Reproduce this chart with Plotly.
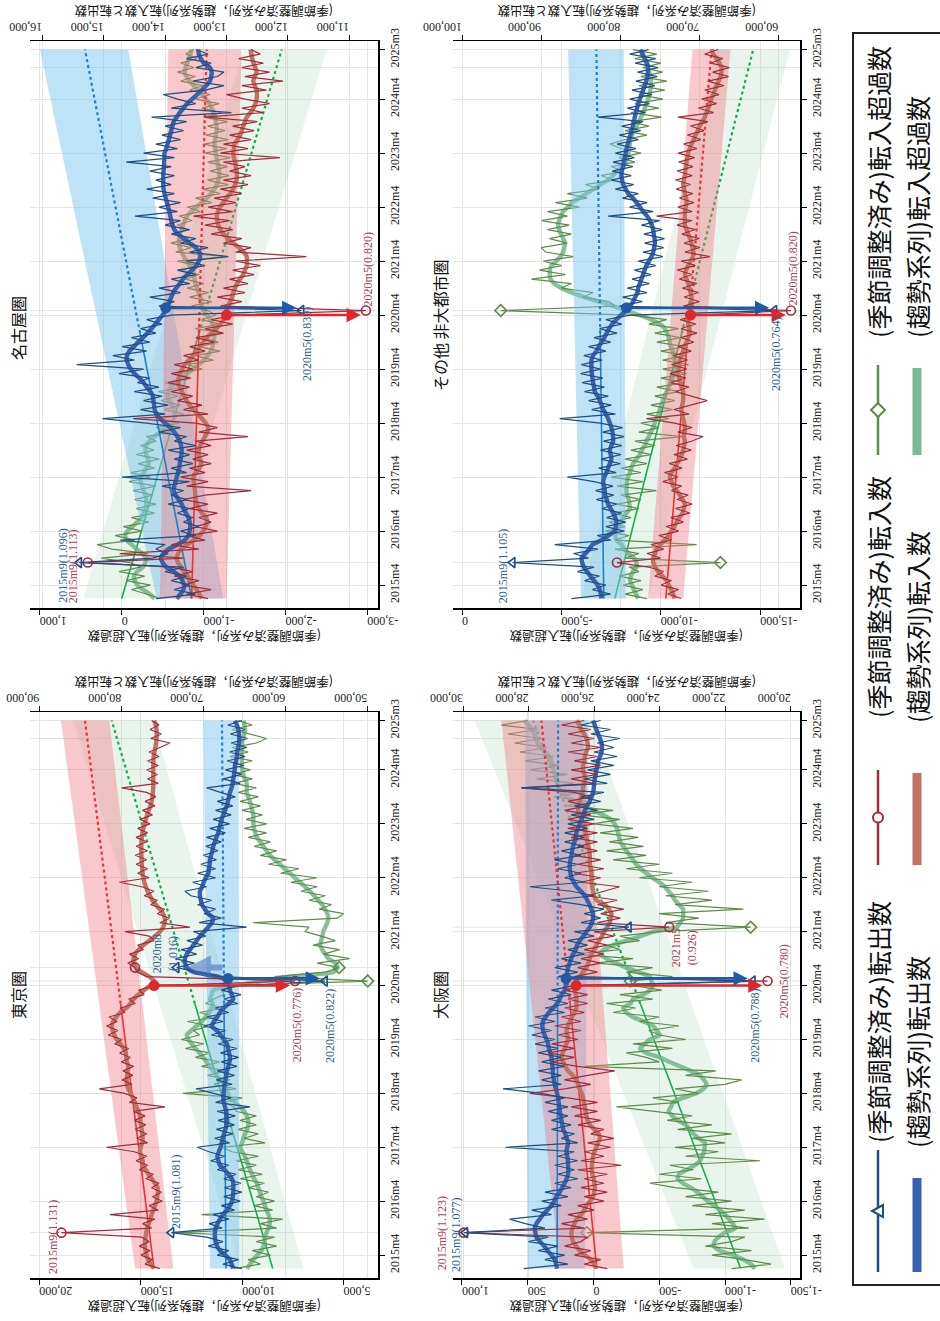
import numpy as np
import pandas as pd
import plotly.graph_objects as go

# ---------------------------------------------------------------- time axis
months = pd.period_range("2015-01", "2025-03", freq="M")
T = np.arange(len(months))


def midx(s):
    p = pd.Period(s, "M")
    return (p.year - 2015) * 12 + p.month - 1


tick_months = ["2015-04", "2016-04", "2017-04", "2018-04", "2019-04", "2020-04",
               "2021-04", "2022-04", "2023-04", "2024-04", "2025-03"]
tick_text = ["2015m4", "2016m4", "2017m4", "2018m4", "2019m4", "2020m4",
             "2021m4", "2022m4", "2023m4", "2024m4", "2025m3"]
fit_end_month = "2019-12"

# ---------------------------------------------------------------- 名古屋圏
nagoya_out_sa = [
    14150, 13500, 13850, 13600, 13900, 13650, 14000, 13700, 15400, 14200, 13950, 14150,
    14000, 14730, 13500, 13750, 13450, 13700, 13550, 13800, 13600, 13950, 13650, 13900,
    13700, 14050, 13600, 14700, 13650, 13900, 13550, 13850, 13600, 13950, 13500, 13850,
    13650, 14100, 13750, 14300, 15020, 14000, 14400, 13950, 14350, 14050, 14500, 14100,
    14450, 14250, 14750, 14350, 15440, 14500, 14850, 14300, 14700, 14250, 14550, 14150,
    14400, 14050, 14300, 13900, 11780, 14100, 13850, 14250, 13750, 14100, 13600, 13900,
    13500, 13800, 13350, 13650, 12970, 13600, 13300, 13750, 13500, 13900, 13600, 14000,
    13750, 14490, 13800, 14100, 13750, 14200, 13850, 14300, 13900, 14150, 13850, 14250,
    13900, 14630, 13850, 14350, 13800, 14150, 13750, 14050, 13700, 14000, 13650, 14220,
    12920, 13900, 13500, 13800, 14030, 13350, 13040, 13550, 13150, 13040, 13500, 13250,
    13650, 13300, 13500]
nagoya_out_trend = [
    13810, 13750, 13700, 13690, 13720, 13760, 13860, 13980, 14040, 14070, 14030, 13940,
    13800, 13680, 13620, 13600, 13590, 13600, 13620, 13660, 13700, 13730, 13780, 13830,
    13860, 13850, 13830, 13810, 13790, 13770, 13760, 13745, 13735, 13730, 13740, 13760,
    13800, 13850, 13920, 14000, 14080, 14140, 14170, 14180, 14190, 14200, 14240, 14300,
    14350, 14420, 14500, 14560, 14600, 14625, 14620, 14580, 14510, 14440, 14360, 14290,
    14220, 14160, 14100, 14040, 13990, 13960, 13930, 13900, 13870, 13820, 13760, 13710,
    13640, 13560, 13490, 13450, 13430, 13440, 13500, 13600, 13700, 13790, 13850, 13880,
    13900, 13915, 13930, 13950, 13970, 13990, 14010, 14025, 14030, 14030, 14030, 14025,
    14020, 14015, 14010, 14010, 13980, 13960, 13940, 13920, 13900, 13880, 13860, 13810,
    13760, 13700, 13640, 13560, 13480, 13400, 13330, 13270, 13250, 13240, 13270, 13370,
    13420, 13450, 13460]
nagoya_in_sa = [
    13300, 13650, 13250, 13700, 13450, 13850, 13550, 13900, 15260, 13700, 14740, 13450,
    13900, 13350, 13650, 13150, 13500, 13250, 13450, 13150, 13600, 13300, 13700, 13350,
    12600, 13650, 13300, 13750, 13350, 13600, 13250, 13550, 13300, 13650, 13250, 13500,
    12650, 13450, 13150, 13500, 14520, 13300, 13700, 13400, 13800, 13550, 13900, 13600,
    13950, 13600, 13900, 13550, 13850, 13450, 13700, 13350, 13600, 13200, 13500, 13050,
    13350, 12900, 13250, 12850, 10730, 13100, 12750, 13150, 12700, 13050, 12650, 12950,
    12550, 12900, 12450, 12850, 11700, 12850, 12600, 13050, 12750, 13250, 12900, 13350,
    12950, 13540, 12900, 13300, 12850, 13200, 12750, 13100, 12650, 13050, 12600, 12950,
    12700, 13050, 12130, 13100, 12650, 13050, 12600, 12950, 12550, 12900, 12500, 13350,
    12400, 12750, 12300, 12700, 13000, 12350, 12750, 12080, 12700, 12300, 12750, 12400,
    12800, 12450, 12600]
nagoya_in_trend = [
    13400, 13440, 13490, 13540, 13590, 13630, 13690, 13740, 13790, 13810, 13790, 13740,
    13640, 13530, 13440, 13380, 13340, 13320, 13330, 13400, 13450, 13480, 13500, 13510,
    13515, 13525, 13535, 13540, 13500, 13440, 13410, 13430, 13455, 13450, 13430, 13390,
    13350, 13310, 13300, 13340, 13400, 13470, 13540, 13600, 13650, 13690, 13730, 13760,
    13785, 13780, 13760, 13720, 13680, 13610, 13540, 13490, 13430, 13380, 13320, 13240,
    13160, 13100, 13050, 13020, 13000, 12970, 12940, 12910, 12890, 12860, 12830, 12780,
    12730, 12700, 12670, 12665, 12670, 12720, 12800, 12890, 12970, 13050, 13100, 13135,
    13150, 13160, 13140, 13105, 13050, 13000, 12940, 12890, 12860, 12835, 12830, 12835,
    12850, 12860, 12880, 12890, 12880, 12870, 12820, 12780, 12750, 12725, 12700, 12670,
    12610, 12560, 12530, 12510, 12505, 12510, 12540, 12565, 12540, 12510, 12530, 12560,
    12580, 12595, 12610]
nagoya_net_sa = [
    -480, -300, -120, -350, -60, -280, 30, -230, -100, 250, -330, 120,
    300, -160, 80, -250, -20, -330, -120, -400, -180, -420, -160, -380,
    -140, -420, -90, -350, -110, -400, -200, -460, -180, -390, -230, -420,
    -300, -600, -420, -700, -480, -760, -520, -720, -480, -690, -450, -740,
    -530, -850, -650, -980, -800, -1120, -900, -1200, -950, -1180, -980, -1230,
    -900, -1200, -980, -1150, -1050, -850, -1100, -830, -1060, -800, -1000, -780,
    -950, -720, -930, -680, -1270, -660, -850, -600, -820, -620, -800, -680,
    -860, -700, -960, -800, -1100, -900, -1200, -1000, -1300, -1050, -1310, -1080,
    -1290, -1050, -1330, -1020, -1280, -1000, -1300, -1030, -1260, -1050, -1290, -1000,
    -1220, -980, -1190, -900, -1080, -830, -1000, -720, -900, -680, -880, -720,
    -920, -780, -880]
nagoya_net_trend = [
    -400, -340, -260, -190, -160, -150, -190, -260, -290, -300, -250, -180,
    -120, -60, -40, -70, -130, -190, -240, -270, -290, -300, -300, -290,
    -270, -250, -230, -240, -270, -300, -330, -320, -300, -290, -300, -340,
    -400, -470, -540, -600, -640, -650, -640, -610, -580, -560, -570, -600,
    -650, -720, -800, -870, -940, -1000, -1050, -1090, -1110, -1120, -1130, -1140,
    -1130, -1110, -1080, -1040, -1000, -980, -970, -960, -940, -920, -900, -890,
    -880, -860, -830, -790, -760, -730, -710, -700, -700, -710, -730, -750,
    -770, -800, -850, -910, -980, -1040, -1090, -1130, -1160, -1180, -1190, -1190,
    -1180, -1170, -1160, -1150, -1140, -1130, -1140, -1150, -1160, -1160, -1150, -1140,
    -1120, -1100, -1070, -1030, -980, -930, -880, -830, -790, -770, -780, -800,
    -820, -840, -850]
nagoya_fit = {"net": (0, -1954), "in": (13568, 13323), "out": (13568, 15305)}
nagoya_band = {"net": (468, -468, -1486, -2503), "in": (14084, 12998, 13948, 12754),
               "out": (14138, 13052, 16038, 14599)}

# ---------------------------------------------------------------- 東京圏
tokyo_out_sa = [
    65300, 67600, 65700, 68300, 66900, 69400, 67600, 69600, 73900, 67700, 69300, 66900,
    68800, 66200, 67800, 65500, 67500, 65300, 67400, 65400, 67500, 66000, 68300, 66900,
    69100, 67400, 69300, 70730, 66800, 68600, 66400, 68400, 66200, 68200, 66100, 68300,
    64310, 68500, 66600, 68600, 70890, 66500, 68400, 66200, 68300, 65900, 67800, 65700,
    67900, 65900, 68200, 66400, 69000, 67300, 70000, 67600, 69600, 66900, 68600, 65800,
    67500, 65400, 67800, 65800, 55160, 68000, 70600, 73250, 71100, 73400, 70800, 72700,
    70100, 72000, 69700, 71200, 64720, 70500, 67800, 69900, 68500, 70700, 69000, 71500,
    72240, 69600, 71300, 68500, 70700, 68500, 70300, 68400, 70000, 68200, 69700, 67800,
    69600, 67300, 69200, 66800, 68800, 66600, 68500, 66400, 68300, 66100, 67900, 69590,
    65500, 67600, 65300, 67300, 65100, 67100, 64900, 66800, 64700, 66600, 64600, 66700,
    64900, 67000, 65300]
tokyo_out_trend = [
    66340, 66550, 66750, 67350, 67970, 68300, 68500, 68580, 68580, 68500, 68250, 67970,
    67600, 67150, 66750, 66500, 66400, 66340, 66340, 66340, 66500, 66950, 67400, 67970,
    68150, 68290, 68100, 67900, 67760, 67620, 67480, 67300, 67160, 67155, 67155, 67200,
    67350, 67500, 67560, 67520, 67480, 67400, 67300, 67200, 67100, 66950, 66800, 66750,
    66850, 67000, 67100, 67500, 67900, 68370, 68980, 68700, 68300, 67970, 67500, 66900,
    66342, 66550, 66748, 66900, 66990, 68200, 71200, 72000, 72200, 72236, 72000, 71626,
    71200, 70813, 70400, 69900, 69400, 68950, 68800, 69390, 69800, 70150, 70300, 70407,
    70400, 70150, 69950, 69700, 69390, 69300, 69230, 69187, 69050, 68900, 68781, 68600,
    68400, 68171, 68050, 67900, 67764, 67560, 67350, 67155, 67000, 66880, 66748, 66550,
    66420, 66342, 66250, 66180, 66139, 66000, 65900, 65854, 65750, 65650, 65610, 65650,
    65732, 65900, 66139]
tokyo_in_sa = [
    75300, 77100, 76200, 77600, 76500, 77800, 76600, 77500, 87300, 76300, 77400, 75900,
    81380, 75500, 76600, 75000, 76200, 75100, 76300, 75400, 77000, 76100, 77800, 76800,
    78200, 76900, 78400, 81790, 76800, 78100, 76900, 78300, 77000, 78400, 77100, 78500,
    74680, 79000, 78100, 79600, 82680, 78700, 79900, 78600, 79800, 78500, 80000, 78900,
    80200, 79100, 80800, 79900, 81600, 80400, 81800, 80500, 81500, 79600, 80100, 78300,
    79100, 77200, 77900, 76000, 58810, 76900, 78100, 78330, 79200, 77900, 79000, 77300,
    78000, 76000, 76600, 79550, 71630, 75300, 74100, 75600, 74700, 76400, 75600, 77200,
    76000, 77500, 80240, 76600, 78000, 76800, 78200, 76900, 78300, 76800, 78200, 76900,
    78200, 76800, 78000, 76500, 77700, 76200, 77400, 75900, 77100, 75800, 76900, 79960,
    75500, 76800, 75600, 76900, 75500, 76800, 75400, 76600, 75300, 74070, 76400, 75100,
    76500, 75400, 76300]
tokyo_in_trend = [
    76020, 76400, 76750, 76910, 77050, 77110, 77110, 77050, 76950, 76850, 76650, 76450,
    76300, 76100, 75900, 75700, 75600, 75550, 75580, 75900, 76300, 76700, 77050, 77350,
    77400, 77550, 77720, 77650, 77450, 77400, 77450, 77520, 77600, 77680, 77720, 77900,
    78150, 78350, 78600, 78850, 79150, 79300, 79350, 79300, 79200, 79150, 79300, 79400,
    79450, 79700, 80100, 80550, 80850, 81050, 81180, 81000, 80600, 80150, 79400, 78900,
    78500, 77900, 77200, 76500, 76000, 76600, 77500, 78200, 78500, 78500, 78300, 77900,
    77300, 76600, 75900, 75300, 74900, 74700, 74700, 74900, 75300, 75800, 76200, 76500,
    76800, 77000, 77200, 77300, 77400, 77450, 77500, 77520, 77550, 77560, 77560, 77550,
    77500, 77420, 77300, 77150, 77000, 76850, 76650, 76450, 76300, 76200, 76150, 76100,
    76100, 76100, 76100, 76100, 76100, 76080, 76050, 75950, 75850, 75750, 75700, 75680,
    75700, 75800, 76000]
tokyo_net_sa = [
    10400, 9100, 9700, 8600, 9500, 8300, 9300, 8400, 13200, 8300, 9100, 8000,
    12000, 8500, 9400, 8400, 9300, 8700, 9700, 8900, 10100, 9000, 10200, 9300,
    10300, 9200, 10500, 11000, 8870, 9900, 9200, 10200, 9300, 10100, 9300, 10300,
    10400, 10900, 10000, 12930, 10300, 11400, 10600, 11700, 10800, 12000, 11100, 12300,
    11600, 12800, 11900, 13000, 12100, 12400, 11600, 12700, 11200, 12100, 10900, 11800,
    11400, 10900, 11000, 10200, 3810, 8400, 5900, 5220, 6300, 4700, 6000, 5200,
    6500, 5400, 6100, 6900, 6700, 9450, 5300, 5000, 6200, 5600, 6700, 5900,
    7100, 6300, 7600, 6320, 8100, 7200, 8700, 7800, 9100, 8300, 9400, 8600,
    9700, 8800, 9900, 8790, 9800, 9000, 10000, 9100, 10100, 9200, 10200, 9300,
    10400, 9500, 10500, 9600, 10400, 9500, 10600, 9700, 10500, 9300, 8790, 9600,
    10500, 9500, 10200]
tokyo_net_trend = [
    9770, 9600, 9450, 9250, 9050, 8950, 8900, 8870, 8800, 8700, 8640, 8640,
    8700, 8800, 8870, 8950, 9050, 9120, 9200, 9280, 9400, 9520, 9610, 9700,
    9780, 9860, 10000, 10100, 10000, 9940, 9850, 9750, 9692, 9700, 9774, 9900,
    10100, 10350, 10600, 10700, 10760, 10900, 11089, 11250, 11418, 11600, 11750, 11912,
    12100, 12300, 12487, 12650, 12734, 12500, 12240, 12000, 11800, 11650, 11500, 11450,
    11583, 11500, 11418, 10300, 9000, 7600, 5500, 5300, 5400, 5746, 5900, 6050,
    6157, 6100, 6050, 5994, 5900, 5800, 5746, 5800, 5911, 6050, 6240, 6450,
    6651, 6900, 7144, 7400, 7637, 7900, 8130, 8400, 8624, 8800, 8953, 9100,
    9281, 9350, 9420, 9446, 9446, 9446, 9500, 9560, 9610, 9700, 9774, 9774,
    9774, 9850, 9939, 9980, 10000, 10021, 10021, 10021, 10021, 10000, 9939, 9900,
    9857, 9880, 9939]
tokyo_fit = {"net": (8492, 16433), "in": (76016, 84431), "out": (67236, 67723)}
tokyo_band = {"net": (10103, 6979, 18323, 14378), "in": (78333, 73658, 87358, 81463),
              "out": (69187, 65610, 70000, 65691)}

# ---------------------------------------------------------------- その他 非大都市圏
other_out_sa = [
    86160, 81200, 83500, 81800, 84500, 82600, 85400, 83300, 93600, 84000, 85900, 82800,
    88270, 81200, 82900, 79500, 81800, 79300, 81700, 79800, 82300, 80400, 83000, 80800,
    83100, 80900, 83300, 86670, 80500, 82700, 80000, 82400, 79900, 82500, 79800, 82100,
    79500, 82200, 79700, 82500, 87640, 80600, 83600, 81100, 84000, 81500, 84500, 82000,
    84800, 82200, 85000, 82500, 84900, 82300, 84600, 81800, 84000, 81200, 83300, 80400,
    82600, 79800, 81800, 78700, 60500, 80100, 77200, 79700, 76600, 79100, 76300, 78500,
    76100, 78200, 75500, 77700, 74600, 77100, 74500, 76900, 74400, 77000, 74700, 77300,
    75000, 81520, 75800, 78800, 76600, 79700, 77700, 80600, 78300, 81100, 78600, 81000,
    78400, 80900, 78200, 80600, 78000, 80400, 77700, 80100, 77400, 79800, 77100, 82790,
    76800, 79100, 76300, 78800, 76000, 78500, 75600, 78000, 75300, 77800, 75200, 78100,
    75500, 78800, 76400]
other_out_trend = [
    82365, 82450, 82576, 82850, 83300, 83750, 84200, 84600, 84800, 84896, 84400, 83900,
    83500, 82365, 81500, 80700, 80550, 80466, 80600, 80888, 81200, 81521, 81700, 81900,
    81943, 82050, 82154, 82000, 81750, 81521, 81300, 81099, 81200, 81310, 81100, 80888,
    80900, 80972, 81100, 81300, 81521, 81800, 82154, 82350, 82576, 82850, 83208, 83300,
    83419, 83500, 83580, 83630, 83630, 83630, 83400, 82997, 82700, 82365, 82000, 81700,
    81400, 81000, 80466, 79900, 79200, 78800, 78356, 78100, 77800, 77724, 77500, 77302,
    77100, 76900, 76669, 76350, 76050, 75825, 75700, 75614, 75650, 75750, 75825, 76000,
    76247, 76600, 77091, 77500, 77935, 78400, 78989, 79300, 79622, 79750, 79833, 79800,
    79622, 79550, 79411, 79300, 79200, 79050, 78863, 78700, 78567, 78400, 78250, 78146,
    78000, 77850, 77724, 77500, 77302, 77100, 76880, 76700, 76542, 76500, 76458, 76600,
    76880, 77200, 77429]
other_in_sa = [
    72300, 74000, 72600, 74800, 73500, 75600, 74500, 76400, 80400, 74900, 76600, 74500,
    76100, 73500, 75100, 72600, 74200, 72000, 73600, 71200, 73000, 70900, 72800, 71400,
    73500, 72200, 74600, 72700, 74400, 72200, 73800, 71500, 73200, 71000, 72900, 70900,
    69500, 72700, 70900, 73100, 76670, 71300, 73200, 71100, 68990, 71000, 73000, 71300,
    73600, 71700, 73700, 71600, 73500, 71500, 73300, 71000, 72700, 70700, 72300, 70300,
    72300, 70400, 72400, 70300, 58400, 72000, 70000, 71900, 70100, 72100, 70300, 72500,
    70900, 72800, 70500, 72300, 68650, 71800, 69900, 71900, 70000, 72200, 70500, 72800,
    70900, 75400, 70900, 72700, 70700, 72500, 70800, 72900, 71100, 73000, 70900, 72800,
    70800, 72600, 70600, 72660, 70300, 72000, 69800, 71500, 69400, 71100, 68900, 72660,
    68200, 70100, 67800, 69700, 67500, 69300, 66900, 68900, 66300, 68300, 66200, 68500,
    67000, 69300, 67600]
other_in_trend = [
    73083, 73300, 73550, 73850, 74137, 74650, 75192, 75550, 75800, 75825, 75600, 75403,
    74900, 74348, 73900, 73505, 73150, 72872, 72500, 72100, 71950, 71817, 72100, 72450,
    72850, 73294, 73500, 73716, 73500, 73083, 72800, 72450, 72200, 72028, 71900, 71817,
    71950, 71850, 71817, 71900, 72028, 72150, 72239, 72150, 72028, 72028, 72028, 72250,
    72400, 72550, 72661, 72600, 72520, 72450, 72250, 72028, 71800, 71606, 71400, 71200,
    71250, 71395, 71350, 71268, 71100, 70973, 70973, 70973, 71100, 71250, 71395, 71600,
    71817, 71650, 71395, 71050, 70800, 70763, 70850, 70973, 71150, 71395, 71600, 71817,
    71817, 71817, 71817, 71700, 71606, 71650, 71817, 71900, 72028, 71950, 71817, 71750,
    71650, 71606, 71500, 71395, 71200, 70973, 70700, 70450, 70200, 69950, 69600, 69300,
    69075, 68850, 68653, 68450, 68231, 68000, 67810, 67550, 67300, 67177, 67177, 67450,
    67800, 68231, 68440]
other_net_sa = [
    -9300, -8200, -9100, -8100, -9000, -7900, -8900, -8400, -13000, -8200, -8900, -7700,
    -11800, -7700, -8400, -7200, -8200, -7400, -8500, -7600, -8900, -7800, -9000, -8000,
    -9783, -7800, -9100, -7500, -9000, -8000, -9300, -8200, -9500, -8500, -9700, -8700,
    -11100, -8900, -9900, -9000, -10400, -9300, -10600, -9500, -10700, -9700, -10900, -9800,
    -11200, -10000, -11300, -10100, -11400, -10100, -11300, -10000, -11200, -9800, -11000, -9700,
    -10900, -9400, -10300, -8500, -1950, -7700, -7400, -6100, -6600, -5000, -5500, -3490,
    -5200, -3900, -5000, -4100, -5600, -4200, -3994, -5300, -4400, -5500, -4300, -5400,
    -4000, -5300, -4300, -5900, -4700, -6300, -5300, -6900, -6200, -7600, -7000, -8100,
    -7500, -8700, -7900, -9000, -8000, -7433, -8200, -9300, -8200, -9400, -8500, -10030,
    -8500, -9900, -8700, -10100, -8900, -10200, -8900, -10300, -9000, -10100, -9100, -10000,
    -8700, -9800, -8600]
other_net_trend = [
    -8860, -8750, -8650, -8550, -8450, -8500, -8600, -8776, -8780, -8650, -8356, -8180,
    -8021, -7769, -7720, -7769, -7853, -8000, -8105, -8273, -8440, -8420, -8380, -8300,
    -8273, -8273, -8300, -8350, -8440, -8520, -8608, -8776, -8944, -9050, -9200, -9279,
    -9400, -9500, -9615, -9700, -9783, -9900, -9951, -10030, -10118, -10200, -10300, -10400,
    -10500, -10600, -10700, -10750, -10750, -10700, -10650, -10600, -10500, -10450, -10400, -10320,
    -10200, -9950, -9500, -8900, -8250, -7600, -6900, -6150, -5500, -5000, -4650, -4450,
    -4413, -4420, -4500, -4749, -4950, -5084, -5150, -5168, -5100, -4980, -4880, -4833,
    -4880, -4980, -5084, -5336, -5550, -5900, -6259, -6600, -6950, -7350, -7600, -7769,
    -8105, -8250, -8320, -8370, -8407, -8440, -8474, -8560, -8650, -8776, -8900, -9000,
    -9112, -9200, -9280, -9363, -9440, -9480, -9497, -9497, -9470, -9414, -9350, -9260,
    -9180, -9100, -9027]
other_fit = {"net": (-7685, -14649), "in": (74222, 68442), "out": (82069, 83003)}
other_band = {"net": (-6007, -9363, -12803, -16495), "in": (76458, 72028, 70847, 66037),
              "out": (84980, 79285, 86583, 79538)}

# ---------------------------------------------------------------- 大阪圏
osaka_out_sa = [
    28150, 26800, 27500, 26900, 27700, 27100, 28000, 27400, 29930, 27500, 28100, 28580,
    27300, 27900, 27000, 27600, 26800, 27500, 26700, 27200, 26500, 27100, 26600, 27200,
    26500, 27100, 26600, 28700, 26500, 27000, 26600, 27300, 26700, 27300, 26800, 27400,
    26800, 27500, 26900, 27600, 28780, 27000, 27600, 27000, 27700, 26900, 27600, 27000,
    27700, 27100, 27800, 27200, 27900, 27300, 28000, 27200, 27800, 26900, 27500, 26800,
    27400, 26700, 27300, 26600, 21160, 27100, 26500, 27200, 26400, 27000, 26300, 26800,
    26200, 26800, 26000, 26600, 24940, 26400, 25800, 26300, 25700, 26400, 27300, 26000,
    26700, 27960, 26300, 26900, 26400, 27100, 26500, 27200, 26400, 27000, 26300, 26900,
    26300, 26900, 26200, 26800, 26000, 26700, 25900, 26600, 25800, 26400, 25700, 28220,
    25600, 26300, 25500, 26200, 25400, 26100, 25300, 26000, 25400, 25900, 25215, 26100,
    25500, 26400, 25800]
osaka_out_trend = [
    27130, 27160, 27200, 27300, 27420, 27520, 27650, 27760, 27790, 27811, 27760, 27660,
    27560, 27430, 27302, 27220, 27150, 27050, 26980, 26900, 26840, 26793, 26790, 26793,
    26800, 26820, 26844, 26820, 26793, 26830, 26880, 26946, 26970, 26997, 27020, 27048,
    27060, 27080, 27099, 27130, 27165, 27200, 27230, 27251, 27260, 27270, 27290, 27302,
    27340, 27380, 27404, 27450, 27510, 27557, 27577, 27560, 27480, 27380, 27250, 27130,
    27050, 26997, 26895, 26870, 26855, 26844, 26820, 26793, 26750, 26700, 26641, 26560,
    26520, 26437, 26330, 26230, 26132, 26070, 26030, 26040, 26081, 26140, 26210, 26284,
    26400, 26539, 26620, 26692, 26720, 26742, 26742, 26720, 26692, 26670, 26641, 26600,
    26560, 26539, 26490, 26440, 26386, 26330, 26284, 26210, 26132, 26080, 26030, 26010,
    26000, 25979, 25950, 25928, 25900, 25877, 25820, 25775, 25760, 25775, 25820, 25877,
    25930, 25980, 26030]
osaka_in_sa = [
    25600, 26300, 25800, 26600, 26100, 26900, 26400, 26200, 29980, 26300, 27000, 26200,
    26800, 26000, 26500, 25700, 26300, 25600, 26400, 25700, 26300, 25600, 26500, 25170,
    26400, 25700, 26300, 25500, 26200, 25400, 26100, 25700, 26500, 25800, 26600, 25900,
    26700, 25900, 26800, 27960, 26900, 26100, 26900, 26200, 25370, 26500, 27300, 26600,
    27400, 26600, 27300, 26500, 27100, 26400, 27200, 26400, 27000, 26300, 26900, 26200,
    26800, 26200, 26900, 26300, 20710, 26600, 25900, 26500, 25800, 26400, 25700, 26300,
    25600, 26200, 25400, 26000, 23710, 25900, 25200, 25800, 25100, 25900, 25300, 26200,
    25700, 25220, 26400, 25800, 26600, 25700, 26500, 25800, 26600, 25900, 26500, 25900,
    26700, 25900, 26800, 26000, 26800, 26100, 26900, 26200, 26800, 26100, 26600, 28220,
    26000, 26700, 25900, 26700, 25800, 26600, 25900, 26800, 25800, 26700, 26000, 26800,
    26100, 27000, 26300]
osaka_in_trend = [
    25928, 26000, 26111, 26280, 26437, 26550, 26641, 26680, 26692, 26660, 26600, 26539,
    26400, 26300, 26233, 26130, 26030, 26000, 25979, 25990, 26010, 26050, 26081, 26070,
    26050, 26030, 25990, 25928, 25880, 25826, 25860, 26000, 26132, 26200, 26233, 26260,
    26284, 26310, 26335, 26380, 26437, 26490, 26539, 26650, 26793, 26880, 26946, 26997,
    26960, 26895, 26850, 26793, 26820, 26844, 26800, 26742, 26680, 26600, 26539, 26539,
    26539, 26560, 26590, 26570, 26550, 26437, 26340, 26233, 26180, 26130, 26081, 26000,
    25928, 25850, 25760, 25700, 25600, 25521, 25490, 25470, 25550, 25674, 25928, 26000,
    26030, 26060, 26081, 26081, 26081, 26100, 26132, 26132, 26132, 26150, 26183, 26210,
    26233, 26260, 26284, 26330, 26386, 26440, 26488, 26460, 26437, 26400, 26350, 26335,
    26310, 26284, 26300, 26335, 26335, 26300, 26284, 26240, 26183, 26200, 26233, 26300,
    26400, 26437, 26539]
osaka_net_sa = [
    -1050, -1350, -1150, -900, -1200, -850, -1050, -1150, 50, -1180, -900, -1300,
    -850, -1150, -750, -1050, -700, -950, -620, -430, -820, -500, -760, -580,
    -1266, -700, -950, -620, -1000, -750, -1050, -640, -900, -560, -750, -450,
    -175, -650, -450, -800, -620, -1000, -1126, -700, -930, 66, -500, -400,
    -250, -600, -300, -700, -500, -420, -650, -350, -500, -150, -320, -100,
    -450, -200, -520, -300, -280, -600, -250, -450, -20, -300, 150, -200,
    -100, -350, -200, -500, -1195, -550, -800, -500, -1139, -620, -900, -550,
    -873, -500, -750, -350, -600, -250, -500, -150, -400, -100, -380, -120,
    -340, -50, -300, 0, -200, 100, -150, 200, 50, 300, 100, 380,
    150, 430, 200, 480, 260, 520, 300, 560, 350, 600, 400, 650,
    420, 700, 500]
osaka_net_trend = [
    -1228, -1195, -1140, -1060, -960, -915, -920, -950, -1000, -1076, -1060, -1030,
    -1000, -962, -920, -870, -830, -790, -740, -680, -640, -650, -708, -770,
    -810, -825, -840, -845, -847, -800, -760, -733, -700, -640, -600, -570,
    -590, -606, -680, -780, -835, -860, -840, -809, -740, -660, -580, -505,
    -403, -353, -390, -429, -505, -480, -454, -380, -300, -251, -226, -280,
    -302, -380, -429, -454, -440, -429, -340, -251, -170, -99, -48, -80,
    -150, -251, -360, -454, -632, -660, -682, -682, -682, -650, -620, -600,
    -570, -543, -500, -450, -403, -360, -325, -300, -275, -250, -226, -205,
    -195, -188, -178, -160, -130, -70, 0, 70, 140, 200, 240, 265,
    275, 285, 292, 302, 310, 320, 335, 370, 405, 425, 437, 447,
    470, 495, 523]
osaka_fit = {"net": (-1119, 459), "in": (25918, 27608), "out": (27129, 27099)}
osaka_band = {"net": (-758, -1456, 903, 15), "in": (27048, 25094, 28829, 26386),
              "out": (28015, 26284, 28117, 26183)}

for arr in [nagoya_out_sa, nagoya_out_trend, nagoya_in_sa, nagoya_in_trend, nagoya_net_sa,
            nagoya_net_trend, tokyo_out_sa, tokyo_out_trend, tokyo_in_sa, tokyo_in_trend,
            tokyo_net_sa, tokyo_net_trend, other_out_sa, other_out_trend, other_in_sa,
            other_in_trend, other_net_sa, other_net_trend, osaka_out_sa, osaka_out_trend,
            osaka_in_sa, osaka_in_trend, osaka_net_sa, osaka_net_trend]:
    assert len(arr) == len(T), len(arr)

# ---------------------------------------------------------------- styling
W, H = 940, 1321
C = dict(
    out_thin="#1d4f82", in_thin="#a32c3c", net_thin="#5d8c48",
    out_thick="#3a60b0", in_thick="#c07360", net_thick="rgba(112,180,138,0.85)",
    out_fit="#1a82d2", in_fit="#f03034", net_fit="#12b04a",
    out_band="rgba(125,198,238,0.50)", in_band="rgba(240,118,128,0.40)",
    net_band="rgba(175,218,185,0.28)",
    out_arrow="#1f5aa6", in_arrow="#e0262b",
    out_label="#2d5f94", in_label="#b04056")
SERIF = "Liberation Serif"
SANS = "Noto Sans CJK JP"

panels = [
    dict(key="nagoya", title="名古屋圏", axes=("x", "x2", "y"), num=(1, 2, 1),
         dom_x=(30, 378), dom_y=(41, 608),
         net_range=(1120, -3130), io_range=(16200, 10533),
         net_ticks=[1000, 0, -1000, -2000, -3000],
         io_ticks=[16000, 15000, 14000, 13000, 12000, 11000],
         data=dict(out=(nagoya_out_sa, nagoya_out_trend), inn=(nagoya_in_sa, nagoya_in_trend),
                   net=(nagoya_net_sa, nagoya_net_trend)),
         fit=nagoya_fit, band=nagoya_band,
         flags=dict(out=["2015-09", "2020-05"], inn=["2015-09", "2020-05"], net=[]),
         extra_grid=["2015-09", "2020-05", "2024-11"],
         labels=[("out", "2015-09", "2015m9(1.096)", -17, -3),
                 ("inn", "2015-09", "2015m9(1.113)", -15, -4),
                 ("out", "2020-05", "2020m5(0.839)", 5, -33),
                 ("inn", "2020-05", "2020m5(0.820)", 2, 41)],
         shifts=[],
         title_pos=(18, 328)),
    dict(key="tokyo", title="東京圏", axes=("x3", "x4", "y2"), num=(3, 4, 2),
         dom_x=(30, 378), dom_y=(712, 1278),
         net_range=(20460, 3300), io_range=(91134, 48695),
         net_ticks=[20000, 15000, 10000, 5000],
         io_ticks=[90000, 80000, 70000, 60000, 50000],
         data=dict(out=(tokyo_out_sa, tokyo_out_trend), inn=(tokyo_in_sa, tokyo_in_trend),
                   net=(tokyo_net_sa, tokyo_net_trend)),
         fit=tokyo_fit, band=tokyo_band,
         flags=dict(out=["2015-09", "2020-05", "2020-08"], inn=["2015-09", "2020-05", "2020-08"],
                    net=["2020-05", "2020-08"]),
         extra_grid=["2015-09", "2020-05", "2020-08", "2024-11"],
         labels=[("inn", "2015-09", "2015m9(1.131)", -9, -4),
                 ("out", "2015-09", "2015m9(1.081)", 4, 41),
                 ("out", "2020-08", "2020m8<br>(1.016)", -12, 14),
                 ("inn", "2020-05", "2020m5(0.776)", 2, -44),
                 ("out", "2020-05", "2020m5(0.822)", 5, -45)],
         shifts=[("out", "2020-08")],
         title_pos=(18, 995)),
    dict(key="other", title="その他 非大都市圏", axes=("x5", "x6", "y3"), num=(5, 6, 3),
         dom_x=(453, 800), dom_y=(41, 608),
         net_range=(453, -17004), io_range=(101140, 57253),
         net_ticks=[0, -5000, -10000, -15000],
         io_ticks=[100000, 90000, 80000, 70000, 60000],
         data=dict(out=(other_out_sa, other_out_trend), inn=(other_in_sa, other_in_trend),
                   net=(other_net_sa, other_net_trend)),
         fit=other_fit, band=other_band,
         flags=dict(out=["2015-09", "2020-05"], inn=["2015-09", "2020-05"],
                    net=["2015-09", "2020-05"]),
         extra_grid=["2015-09", "2020-05", "2024-11"],
         labels=[("out", "2015-09", "2015m9(1.105)", -10, -4),
                 ("out", "2020-05", "2020m5(0.764)", 1, -43),
                 ("inn", "2020-05", "2020m5(0.820)", 2, 42)],
         shifts=[],
         title_pos=(440, 325)),
    dict(key="osaka", title="大阪圏", axes=("x7", "x8", "y4"), num=(7, 8, 4),
         dom_x=(453, 800), dom_y=(712, 1278),
         net_range=(1068, -1570), io_range=(30305, 19719),
         net_ticks=[1000, 500, 0, -500, -1000, -1500],
         io_ticks=[30000, 28000, 26000, 24000, 22000, 20000],
         data=dict(out=(osaka_out_sa, osaka_out_trend), inn=(osaka_in_sa, osaka_in_trend),
                   net=(osaka_net_sa, osaka_net_trend)),
         fit=osaka_fit, band=osaka_band,
         flags=dict(out=["2015-09", "2020-05", "2021-05"], inn=["2015-09", "2020-05", "2021-05"],
                    net=["2015-09", "2020-05", "2021-05"]),
         extra_grid=["2015-09", "2020-05", "2021-05", "2024-11"],
         labels=[("inn", "2015-09", "2015m9(1.123)", -22, -1),
                 ("out", "2015-09", "2015m9(1.077)", -10, -2),
                 ("inn", "2021-05", "2021m5<br>(0.926)", 15, -21),
                 ("out", "2020-05", "2020m5(0.788)", 2, -45),
                 ("inn", "2020-05", "2020m5(0.780)", 17, -1)],
         shifts=[],
         title_pos=(440, 995)),
]

fig = go.Figure()
annotations = []
shapes = []
layout = {}

t_first, t_last = int(T[0]), int(T[-1])
t_fit_end = midx(fit_end_month)
event_month = "2020-05"
arrow_dt = {"inn": -1.0, "out": 0.6}


def fit_val(fit, t):
    a, b = fit
    return a + (b - a) * (t - t_first) / (t_last - t_first)


def sc(xa, ya, **kw):
    fig.add_trace(go.Scatter(xaxis=xa, yaxis=ya, hoverinfo="skip", showlegend=False, **kw))


for p in panels:
    xn, xio, ya = p["axes"]
    d = p["data"]
    series_axis = {"net": xn, "out": xio, "inn": xio}
    fitkey = {"net": "net", "out": "out", "inn": "in"}
    # ---- bands (net first -> lives in base layer; io on overlay layer)
    for k, col in [("net", C["net_band"]), ("out", C["out_band"]), ("inn", C["in_band"])]:
        l0, r0, l1, r1 = p["band"][fitkey[k]]
        sc(series_axis[k], ya, x=[l0, r0, r1, l1, l0], y=[t_first, t_first, t_last, t_last, t_first],
           mode="lines", fill="toself", fillcolor=col, line=dict(width=0))
    # ---- linear fits
    for k, col in [("net", C["net_fit"]), ("out", C["out_fit"]), ("inn", C["in_fit"])]:
        f = p["fit"][fitkey[k]]
        sc(series_axis[k], ya, x=[fit_val(f, t_first), fit_val(f, t_fit_end)], y=[t_first, t_fit_end],
           mode="lines", line=dict(color=col, width=1.6))
        sc(series_axis[k], ya, x=[fit_val(f, t_fit_end), fit_val(f, t_last)], y=[t_fit_end, t_last],
           mode="lines", line=dict(color=col, width=2.2, dash="dot"))
    # ---- trend (thick)
    for k, col in [("net", C["net_thick"]), ("inn", C["in_thick"]), ("out", C["out_thick"])]:
        sc(series_axis[k], ya, x=d[k][1], y=T, mode="lines",
           line=dict(color=col, width=4.4, shape="spline", smoothing=0.6))
    # ---- seasonally adjusted (thin)
    for k, col in [("net", C["net_thin"]), ("inn", C["in_thin"]), ("out", C["out_thin"])]:
        sc(series_axis[k], ya, x=d[k][0], y=T, mode="lines", line=dict(color=col, width=1.2))
    # ---- flagged months
    for k, col, sym in [("net", C["net_thin"], "diamond-open"), ("inn", C["in_thin"], "circle-open"),
                        ("out", C["out_thin"], "triangle-left-open")]:
        idx = [midx(m) for m in p["flags"][k]]
        if idx:
            sc(series_axis[k], ya, x=[d[k][0][i] for i in idx], y=idx, mode="markers",
               marker=dict(symbol=sym, size=9, color=col, line=dict(width=1.6, color=col)))
    # ---- event arrows (trend -> seasonally adjusted value)
    ei = midx(event_month)
    for k, col in [("inn", C["in_arrow"]), ("out", C["out_arrow"])]:
        ty = ei + arrow_dt[k]
        sc(xio, ya, x=[d[k][1][ei]], y=[ty], mode="markers",
           marker=dict(symbol="circle", size=11, color=col))
        annotations.append(dict(x=d[k][0][ei], y=ty, ax=d[k][1][ei], ay=ty, xref=xio, yref=ya,
                                axref=xio, ayref=ya, showarrow=True, arrowhead=2, arrowsize=1.1,
                                arrowwidth=2.6, arrowcolor=col, standoff=5, text=""))
    # ---- level-shift arrows (linear fit -> trend)
    for k, m in p["shifts"]:
        i = midx(m)
        annotations.append(dict(x=d[k][1][i], y=i, ax=fit_val(p["fit"][fitkey[k]], i), ay=i,
                                xref=xio, yref=ya, axref=xio, ayref=ya, showarrow=True,
                                arrowhead=2, arrowsize=0.8, arrowwidth=6,
                                arrowcolor="rgba(60,110,190,0.55)", standoff=0, text=""))
    # ---- labels
    for k, m, txt, dx, dy in p["labels"]:
        i = midx(m)
        annotations.append(dict(x=d[k][0][i], y=i, xref=series_axis[k], yref=ya, text=txt,
                                showarrow=False, textangle=-90, xshift=dx, yshift=dy,
                                xanchor="center", yanchor="middle",
                                font=dict(family=SERIF, size=12,
                                          color=C["out_label"] if k == "out" else C["in_label"])))
    # ---- extra grid lines
    for m in p["extra_grid"]:
        shapes.append(dict(type="line", xref=f"{xn} domain", x0=0, x1=1, yref=ya,
                           y0=midx(m), y1=midx(m), layer="below",
                           line=dict(color="#e4e4e4", width=1)))
    # ---- axes
    n1, n2, ny = p["num"]
    xdom = [p["dom_x"][0] / W, p["dom_x"][1] / W]
    ydom = [1 - p["dom_y"][1] / H, 1 - p["dom_y"][0] / H]
    common_x = dict(showline=True, linecolor="black", linewidth=1.5, ticks="outside", ticklen=5,
                    tickcolor="black", tickangle=180, showgrid=True, gridcolor="#e4e4e4",
                    zeroline=False, automargin=False,
                    tickfont=dict(family=SERIF, size=12, color="#222"))
    layout[f"xaxis{'' if n1 == 1 else n1}"] = dict(
        domain=xdom, anchor=ya, side="bottom", range=list(p["net_range"]),
        tickvals=p["net_ticks"], ticktext=[f"{v:,}" for v in p["net_ticks"]], **common_x)
    layout[f"xaxis{n2}"] = dict(
        overlaying=xn, anchor=ya, side="top", range=list(p["io_range"]),
        tickvals=p["io_ticks"], ticktext=[f"{v:,}" for v in p["io_ticks"]],
        ticklabelstandoff=-5, **common_x)
    layout[f"yaxis{'' if ny == 1 else ny}"] = dict(
        domain=ydom, anchor=xn, side="right", range=[-2.1, 123.9],
        tickvals=[midx(m) for m in tick_months], ticktext=tick_text, tickangle=-90,
        showline=True, linecolor="black", linewidth=1.5, ticks="outside", ticklen=5,
        tickcolor="black", showgrid=True, gridcolor="#e4e4e4", zeroline=False, automargin=False,
        tickfont=dict(family=SERIF, size=12, color="#222"))
    # ---- titles
    cx = (p["dom_x"][0] + p["dom_x"][1]) / 2
    annotations.append(dict(x=cx / W, y=1 - (p["dom_y"][1] + 29) / H, xref="paper", yref="paper",
                            text="(季節調整済み系列，趨勢系列)転入超過数", showarrow=False,
                            textangle=180, xanchor="center", yanchor="middle",
                            font=dict(family=SANS, size=12.5, color="#111")))
    annotations.append(dict(x=cx / W, y=1 - (p["dom_y"][0] - 29) / H, xref="paper", yref="paper",
                            text="(季節調整済み系列，趨勢系列)転入数と転出数", showarrow=False,
                            textangle=180, xanchor="center", yanchor="middle",
                            font=dict(family=SANS, size=12.5, color="#111")))
    tx, ty = p["title_pos"]
    annotations.append(dict(x=tx / W, y=1 - ty / H, xref="paper", yref="paper", text=p["title"],
                            showarrow=False, textangle=-90, xanchor="center", yanchor="middle",
                            font=dict(family=SANS, size=16, color="#111")))

# ---------------------------------------------------------------- legend (drawn)
def pxx(x):
    return x / W


def pyy(y):
    return 1 - y / H


shapes.append(dict(type="rect", xref="paper", yref="paper", x0=pxx(853), x1=pxx(946),
                   y0=pyy(1285), y1=pyy(33), line=dict(color="#222", width=2)))
legend_items = [
    # (column x, y_top, y_bottom, colour, kind, text, text_start)
    (878, 1150, 1272, C["out_thin"], "triangle", "(季節調整済み)転出数", 1145),
    (878, 770, 865, C["in_thin"], "circle", "(季節調整済み)転入数", 720),
    (878, 365, 455, C["net_thin"], "diamond", "(季節調整済み)転入超過数", 340),
    (917, 1178, 1272, C["out_thick"], "bar", "(趨勢系列)転出数", 1150),
    (917, 773, 865, C["in_thick"], "bar", "(趨勢系列)転入数", 725),
    (917, 368, 455, "#7cb898", "bar", "(趨勢系列)転入超過数", 340),
]
for cxp, y0, y1, col, kind, txt, tstart in legend_items:
    wdt = 9 if kind == "bar" else 2.5
    shapes.append(dict(type="line", xref="paper", yref="paper", x0=pxx(cxp), x1=pxx(cxp),
                       y0=pyy(y0), y1=pyy(y1), line=dict(color=col, width=wdt)))
    ym = (y0 + y1) / 2
    if kind == "circle":
        shapes.append(dict(type="circle", xref="paper", yref="paper", x0=pxx(cxp - 5), x1=pxx(cxp + 5),
                           y0=pyy(ym + 5), y1=pyy(ym - 5), fillcolor="white",
                           line=dict(color=col, width=2)))
    elif kind == "diamond":
        path = (f"M {pxx(cxp)},{pyy(ym - 7)} L {pxx(cxp + 7)},{pyy(ym)} "
                f"L {pxx(cxp)},{pyy(ym + 7)} L {pxx(cxp - 7)},{pyy(ym)} Z")
        shapes.append(dict(type="path", xref="paper", yref="paper", path=path, fillcolor="white",
                           line=dict(color=col, width=2)))
    elif kind == "triangle":
        path = (f"M {pxx(cxp - 6)},{pyy(ym)} L {pxx(cxp + 5)},{pyy(ym - 6)} "
                f"L {pxx(cxp + 5)},{pyy(ym + 6)} Z")
        shapes.append(dict(type="path", xref="paper", yref="paper", path=path, fillcolor="white",
                           line=dict(color=col, width=2)))
    annotations.append(dict(x=pxx(cxp), y=pyy(tstart), xref="paper", yref="paper", text=txt,
                            showarrow=False, textangle=-90, xanchor="center", yanchor="bottom",
                            font=dict(family=SANS, size=25, color="#111")))

fig.update_layout(width=W, height=H, margin=dict(l=0, r=0, t=0, b=0),
                  paper_bgcolor="white", plot_bgcolor="white", showlegend=False,
                  hovermode=False, annotations=annotations, shapes=shapes,
                  font=dict(family=SERIF, size=12), **layout)

fig.write_html("out.html", config={"displayModeBar": False, "staticPlot": True},
               post_script="document.body.style.margin='0px';document.body.style.overflow='hidden';")
